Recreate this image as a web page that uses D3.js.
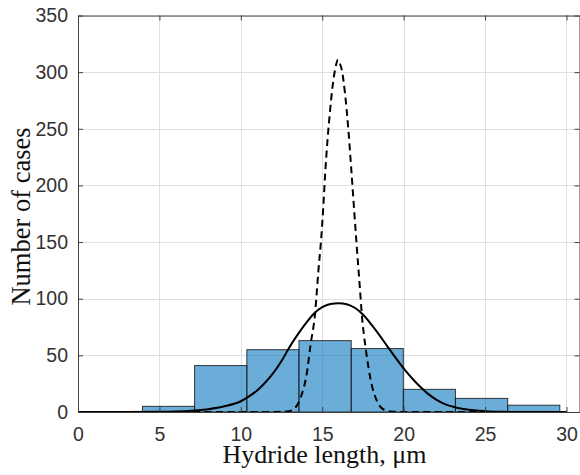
<!DOCTYPE html>
<meta charset="utf-8">
<script src="https://d3js.org/d3.v7.min.js"></script>
<style>
  body { margin: 0; background: #fff; }
</style>
<div id="my_dataviz"></div>
<script>

// histogram bins (edges and counts)
var binEdges = [3.96, 7.16, 10.37, 13.57, 16.78, 19.98, 23.18, 26.39, 29.59];
var binCounts = [5, 41, 55, 63, 56, 20, 12, 6];

// solid fit curve
var solidX = [0, 3, 5, 6, 7, 8, 9, 10, 10.5, 11, 11.5, 12, 12.5, 13, 13.5, 14, 14.5, 15, 15.5, 16, 16.5, 17, 17.5, 18, 18.5, 19, 19.5, 20, 20.5, 21, 21.5, 22, 22.5, 23, 23.5, 24, 25, 26, 27, 30];
var solidY = [0, 0.02, 0.15, 0.4, 1.1, 2.5, 5, 9.5, 13.8, 19, 26, 34.5, 45, 57.5, 68.5, 78.5, 87, 92.5, 95.3, 96, 95.2, 92, 86, 77.5, 68, 58, 48, 38.5, 30, 22.5, 16, 11, 7.2, 4.8, 3, 2, 0.7, 0.2, 0.05, 0];

// dashed fit curve
var dashX = [0, 12, 12.8, 13.13, 13.68, 14.05, 14.29, 14.56, 14.76, 14.93, 15.07, 15.17, 15.34, 15.48, 15.64, 15.8, 15.97, 16.1, 16.2, 16.4, 16.6, 16.77, 16.97, 17.12, 17.32, 17.42, 17.69, 17.98, 18.38, 18.8, 19.3, 20, 30];
var dashY = [0, 0, 0.5, 1.5, 13, 34, 60, 87, 124, 152, 182, 208, 243, 266, 288, 303, 311, 307, 302, 281, 250, 217, 176, 146, 108, 88, 54, 28, 9, 2, 0.3, 0, 0];

var xTicks = [0, 5, 10, 15, 20, 25, 30];
var yTicks = [0, 50, 100, 150, 200, 250, 300, 350];

var W = 580, H = 475;
var mLeft = 78, mRight = 579.5, mTop = 15.5, mBottom = 412;

var svg = d3.select("#my_dataviz")
  .append("svg")
    .attr("width", W)
    .attr("height", H);

var x = d3.scaleLinear().domain([0, 30.8]).range([mLeft, mRight]);
var y = d3.scaleLinear().domain([0, 350]).range([mBottom, mTop]);

// grid
var grid = svg.append("g").attr("stroke", "#e0e0e0").attr("stroke-width", 1);
grid.selectAll(".gx").data(xTicks).enter().append("line")
  .attr("x1", function(d) { return Math.round(x(d)) + 0.5; })
  .attr("x2", function(d) { return Math.round(x(d)) + 0.5; })
  .attr("y1", mTop).attr("y2", mBottom);
grid.selectAll(".gy").data(yTicks).enter().append("line")
  .attr("y1", function(d) { return Math.round(y(d)) + 0.5; })
  .attr("y2", function(d) { return Math.round(y(d)) + 0.5; })
  .attr("x1", mLeft).attr("x2", mRight);

// bars
var bins = binCounts.map(function(c, i) { return {x0: binEdges[i], x1: binEdges[i + 1], n: c}; });
svg.append("g").selectAll("rect")
  .data(bins)
  .enter()
  .append("rect")
    .attr("x", function(d) { return x(d.x0); })
    .attr("width", function(d) { return x(d.x1) - x(d.x0); })
    .attr("y", function(d) { return y(d.n); })
    .attr("height", function(d) { return y(0) - y(d.n); })
    .style("fill", "#0072BD")
    .style("fill-opacity", 0.58)
    .style("stroke", "#1a1a1a")
    .style("stroke-opacity", 0.85)
    .style("stroke-width", 1);

var line = d3.line()
  .x(function(d) { return x(d[0]); })
  .y(function(d) { return y(d[1]); })
  .curve(d3.curveMonotoneX);

svg.append("path")
  .datum(solidX.map(function(v, i) { return [v, solidY[i]]; }))
  .attr("d", line)
  .attr("fill", "none")
  .attr("stroke", "#000")
  .attr("stroke-width", 2);

svg.append("path")
  .datum(dashX.map(function(v, i) { return [v, dashY[i]]; }))
  .attr("d", line)
  .attr("fill", "none")
  .attr("stroke", "#000")
  .attr("stroke-width", 2)
  .attr("stroke-dasharray", "7,4.5");

// axes box with inward ticks
var axisColor = "#404040";
var xAxis = svg.append("g")
  .attr("transform", "translate(0," + mBottom + ")")
  .call(d3.axisBottom(x).tickValues(xTicks).tickSizeInner(-5).tickSizeOuter(0).tickPadding(15));
var xTop = svg.append("g")
  .attr("transform", "translate(0," + mTop + ")")
  .call(d3.axisTop(x).tickValues(xTicks).tickSizeInner(-5).tickSizeOuter(0).tickFormat(""));
var yAxis = svg.append("g")
  .attr("transform", "translate(" + mLeft + ",0)")
  .call(d3.axisLeft(y).tickValues(yTicks).tickSizeInner(-5).tickSizeOuter(0).tickPadding(10));
var yRight = svg.append("g")
  .attr("transform", "translate(" + mRight + ",0)")
  .call(d3.axisRight(y).tickValues(yTicks).tickSizeInner(-5).tickSizeOuter(0).tickFormat(""));

[xAxis, xTop, yAxis, yRight].forEach(function(g) {
  g.selectAll("path, line").attr("stroke", axisColor);
  g.selectAll("text")
    .attr("fill", "#333")
    .style("font-family", "'Liberation Sans', Arial, sans-serif")
    .style("font-size", "19.5px");
});

// axis titles
svg.append("text")
  .attr("x", 324.5)
  .attr("y", 463)
  .attr("text-anchor", "middle")
  .style("font-family", "'Liberation Serif', 'Times New Roman', serif")
  .style("font-size", "26px")
  .attr("fill", "#111")
  .text("Hydride length, \u03bcm");

svg.append("text")
  .attr("transform", "translate(30,216.5) rotate(-90)")
  .attr("text-anchor", "middle")
  .style("font-family", "'Liberation Serif', 'Times New Roman', serif")
  .style("font-size", "26.5px")
  .attr("fill", "#111")
  .text("Number of cases");

</script>
